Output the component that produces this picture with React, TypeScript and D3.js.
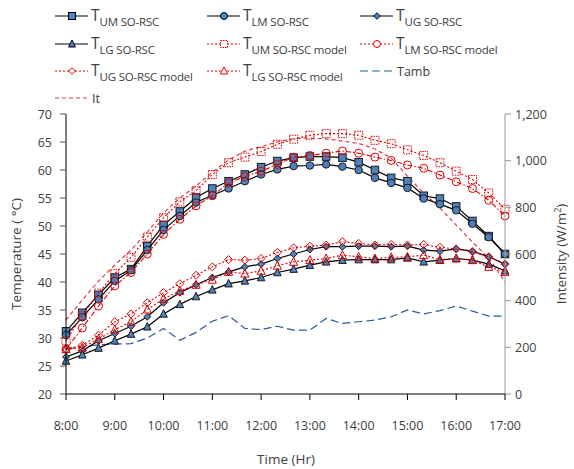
import React from "react";
import * as d3 from "d3";

const times = ["8:00","8:20","8:40","9:00","9:20","9:40","10:00","10:20","10:40","11:00","11:20","11:40","12:00","12:20","12:40","13:00","13:20","13:40","14:00","14:20","14:40","15:00","15:20","15:40","16:00","16:20","16:40","17:00"];

const tUM = [31.2,34.5,37.7,40.8,42.3,46.4,50.2,52.6,55.1,56.7,58.0,59.2,60.5,61.6,62.2,62.4,62.4,62.2,61.4,60.0,58.6,58.0,55.4,54.9,53.5,50.9,48.2,45.0];
const tLM = [30.5,33.7,36.9,40.2,42.1,45.7,49.3,51.8,54.2,55.5,56.7,58.0,59.2,60.1,60.7,60.8,61.0,60.6,60.0,58.6,57.7,56.8,54.9,53.9,52.8,50.4,48.0,45.0];
const tUG = [26.6,27.7,29.5,30.8,32.1,33.8,36.3,38.1,39.5,40.8,41.8,42.7,43.2,44.2,45.0,45.8,46.3,46.3,46.4,46.4,46.3,46.4,45.7,45.5,45.9,45.5,44.5,43.2];
const tLG = [25.9,27.0,28.2,29.5,30.7,32.0,34.3,36.0,37.4,38.6,39.7,40.2,40.8,41.7,42.3,43.0,43.6,43.9,44.0,44.0,44.0,44.3,43.6,43.9,44.2,43.9,43.2,42.0];
const tUMm = [29.5,34.0,38.0,41.5,44.4,48.0,51.5,54.3,56.3,59.2,61.3,62.3,63.3,64.6,65.5,66.2,66.5,66.5,66.2,65.3,64.7,63.6,62.6,61.3,59.8,58.3,55.9,53.0];
const tLMm = [28.0,31.8,35.7,39.3,41.7,45.0,48.5,51.2,53.6,55.4,57.7,58.8,59.8,61.0,62.3,62.6,63.0,63.4,63.0,62.3,61.7,60.9,60.3,59.1,57.9,56.7,54.6,51.8];
const tUGm = [28.0,28.7,30.5,32.9,34.3,36.3,38.1,39.7,41.2,42.7,44.0,43.9,44.2,45.3,46.1,46.4,46.6,47.2,46.9,46.6,46.7,46.6,46.7,46.2,45.9,45.4,44.5,43.2];
const tLGm = [28.0,28.3,29.8,31.5,32.9,35.1,37.0,38.4,39.5,40.4,41.8,41.5,42.0,42.9,43.6,43.9,44.2,44.8,44.5,44.2,44.4,44.5,44.8,44.0,44.2,43.9,42.7,41.8];
const tAmb = [28.1,28.4,28.8,28.9,29.0,30.0,31.7,29.6,31.0,33.0,34.0,31.7,31.5,32.1,31.4,31.4,33.5,32.6,32.9,33.2,33.8,35.0,34.3,34.9,35.7,34.8,33.9,33.9];
const intensity = [317,403,484,553,617,694,776,840,891,951,1003,1041,1060,1080,1095,1097,1093,1084,1074,1050,1011,934,861,797,724,651,583,480];

const leftTicks = [20,25,30,35,40,45,50,55,60,65,70];
const rightTicks = [0,200,400,600,800,1000,1200];
const rightTickLabels = ["0","200","400","600","800","1,000","1,200"];
const hourTicks = ["8:00","9:00","10:00","11:00","12:00","13:00","14:00","15:00","16:00","17:00"];

const toH = (s: string) => { const [h, m] = s.split(":").map(Number); return h + m / 60; };

const BLUE = "#4F81BD";
const RED = "#E00000";
const FONT = "'Open Sans', 'DejaVu Sans', sans-serif";
const TXT = "#404040";

type MarkerKind = "square" | "circle" | "diamond" | "triangle";

function Marker({ kind, x, y, fill, stroke, dash, size }: { kind: MarkerKind; x: number; y: number; fill: string; stroke: string; dash?: string; size?: number }) {
  const s = size ?? 7;
  const common = { fill, stroke, strokeWidth: 1, strokeDasharray: dash };
  if (kind === "square") return <rect x={x - s / 2} y={y - s / 2} width={s} height={s} {...common} />;
  if (kind === "circle") return <circle cx={x} cy={y} r={s / 2} {...common} />;
  if (kind === "diamond") {
    const r = s / 2;
    return <path d={`M${x},${y - r}L${x + r},${y}L${x},${y + r}L${x - r},${y}Z`} {...common} />;
  }
  const r = s / 2;
  return <path d={`M${x},${y - r - 0.5}L${x + r},${y + r - 0.5}L${x - r},${y + r - 0.5}Z`} {...common} />;
}

export default function App() {
  const W = 574, H = 469;
  const x = d3.scaleLinear().domain([8, 17]).range([66, 505]);
  const yL = d3.scaleLinear().domain([20, 70]).range([394, 114]);
  const yR = d3.scaleLinear().domain([0, 1200]).range([394, 114]);
  const hrs = times.map(toH);

  const lineL = d3.line<number>().x((_, i) => x(hrs[i])).y((d) => yL(d));
  const lineR = d3.line<number>().x((_, i) => x(hrs[i])).y((d) => yR(d));

  const measured: { data: number[]; kind: MarkerKind; size: number }[] = [
    { data: tUM, kind: "square", size: 7.5 },
    { data: tLM, kind: "circle", size: 7.5 },
    { data: tUG, kind: "diamond", size: 7 },
    { data: tLG, kind: "triangle", size: 7.5 },
  ];
  const models: { data: number[]; kind: MarkerKind; dash: string; mdash?: string; size: number }[] = [
    { data: tUMm, kind: "square", dash: "2,2", mdash: "1.5,1", size: 8 },
    { data: tLMm, kind: "circle", dash: "5,2,1.5,2", size: 8 },
    { data: tUGm, kind: "diamond", dash: "2,2", size: 8 },
    { data: tLGm, kind: "triangle", dash: "2,2", size: 8 },
  ];

  const legendCols = [55, 207, 360];
  const legendRows = [16, 44, 71, 98];
  type LegendItem = { col: number; row: number; label: string; sub?: string; kind?: MarkerKind; color: string; fill?: string; dash?: string; mdash?: string };
  const legend: LegendItem[] = [
    { col: 0, row: 0, label: "T", sub: "UM SO-RSC", kind: "square", color: "#000", fill: BLUE },
    { col: 1, row: 0, label: "T", sub: "LM SO-RSC", kind: "circle", color: "#000", fill: BLUE },
    { col: 2, row: 0, label: "T", sub: "UG SO-RSC", kind: "diamond", color: "#000", fill: BLUE },
    { col: 0, row: 1, label: "T", sub: "LG SO-RSC", kind: "triangle", color: "#000", fill: BLUE },
    { col: 1, row: 1, label: "T", sub: "UM SO-RSC model", kind: "square", color: RED, fill: "#fff", dash: "2,2", mdash: "1.5,1" },
    { col: 2, row: 1, label: "T", sub: "LM SO-RSC model", kind: "circle", color: RED, fill: "#fff", dash: "2,2" },
    { col: 0, row: 2, label: "T", sub: "UG SO-RSC model", kind: "diamond", color: RED, fill: "#fff", dash: "2,2" },
    { col: 1, row: 2, label: "T", sub: "LG SO-RSC model", kind: "triangle", color: RED, fill: "#fff", dash: "2,2" },
    { col: 2, row: 2, label: "Tamb", color: "#2E5A9C", dash: "8,4" },
    { col: 0, row: 3, label: "It", color: "#E03C46", dash: "4,3" },
  ];

  return (
    <svg width={W} height={H} style={{ position: "absolute", left: 0, top: 0, background: "#fff" }} fontFamily={FONT}>
      {/* Legend */}
      {legend.map((it, k) => {
        const lx = legendCols[it.col];
        const ly = legendRows[it.row];
        return (
          <g key={k}>
            <line x1={lx} x2={lx + 33} y1={ly} y2={ly} stroke={it.color} strokeWidth={1.2} strokeDasharray={it.dash} />
            {it.kind && <Marker kind={it.kind} x={lx + 17} y={ly} fill={it.fill!} stroke={it.color} dash={it.mdash} size={it.kind === "diamond" ? 6.5 : 7} />}
            {it.sub ? (
              <text x={lx + 36} y={ly + 5} fill={TXT} fontSize={15.5}>
                {it.label}
                <tspan fontSize={11.5} dy={5} letterSpacing={-0.2}>{it.sub}</tspan>
              </text>
            ) : (
              <text x={lx + 37} y={ly + 5} fill={TXT} fontSize={12.5}>{it.label}</text>
            )}
          </g>
        );
      })}

      {/* Tamb */}
      <path d={lineL(tAmb) ?? ""} fill="none" stroke="#2E5A9C" strokeWidth={1.2} strokeDasharray="8,4" />
      {/* Intensity */}
      <path d={lineR(intensity) ?? ""} fill="none" stroke="#E03C46" strokeWidth={1.2} strokeDasharray="4,3" />

      {/* measured */}
      {measured.map((s, k) => (
        <g key={"m" + k}>
          <path d={lineL(s.data) ?? ""} fill="none" stroke="#000" strokeWidth={1.2} />
          {s.data.map((v, i) => (
            <Marker key={i} kind={s.kind} x={x(hrs[i])} y={yL(v)} fill={BLUE} stroke="#1a1a1a" size={s.size} />
          ))}
        </g>
      ))}
      {/* models */}
      {models.map((s, k) => (
        <g key={"p" + k}>
          <path d={lineL(s.data) ?? ""} fill="none" stroke={RED} strokeWidth={1.1} strokeDasharray={s.dash} />
          {s.data.map((v, i) => (
            <Marker key={i} kind={s.kind} x={x(hrs[i])} y={yL(v)} fill="none" stroke={RED} dash={s.mdash} size={s.size} />
          ))}
        </g>
      ))}

      {/* Left axis */}
      <line x1={66} x2={66} y1={114} y2={394} stroke="#000" strokeWidth={1} />
      {leftTicks.map((t) => (
        <g key={"l" + t}>
          <line x1={60} x2={66} y1={yL(t)} y2={yL(t)} stroke="#555" />
          <text x={52} y={yL(t) + 4.5} textAnchor="end" fontSize={12.5} fill={TXT}>{t}</text>
        </g>
      ))}
      {/* Right axis */}
      <line x1={505} x2={505} y1={114} y2={394} stroke="#999" strokeWidth={1} />
      {rightTicks.map((t, i) => (
        <g key={"r" + t}>
          <line x1={505} x2={511} y1={yR(t)} y2={yR(t)} stroke="#999" />
          <text x={515} y={yR(t) + 4.5} textAnchor="start" fontSize={12.5} fill={TXT}>{rightTickLabels[i]}</text>
        </g>
      ))}
      {/* Bottom axis */}
      <line x1={66} x2={505} y1={394} y2={394} stroke="#000" strokeWidth={1} />
      {hourTicks.map((h) => (
        <g key={"b" + h}>
          <line x1={x(toH(h))} x2={x(toH(h))} y1={394} y2={400} stroke="#000" />
          <text x={x(toH(h))} y={430} textAnchor="middle" fontSize={12.5} fill={TXT}>{h}</text>
        </g>
      ))}

      {/* Axis titles */}
      <text x={286} y={464} textAnchor="middle" fontSize={13.5} fill={TXT}>Time (Hr)</text>
      <text transform={`translate(21,254) rotate(-90)`} textAnchor="middle" fontSize={13.5} fill={TXT}>Temperature ( °C)</text>
      <text transform={`translate(566,254) rotate(-90)`} textAnchor="middle" fontSize={13.5} fill={TXT}>
        Intensity (W/m<tspan dy={-5} fontSize={9}>2</tspan><tspan dy={5}>)</tspan>
      </text>
    </svg>
  );
}
